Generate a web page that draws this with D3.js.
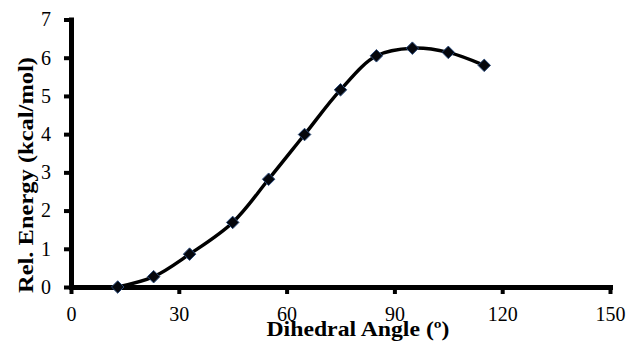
<!DOCTYPE html>
<html><head><meta charset="utf-8">
<script src="https://cdn.jsdelivr.net/npm/d3@7"></script>
<style>body{margin:0;background:#fff}svg{display:block}</style>
</head><body>
<script>
const angles = [13, 23, 33, 45, 55, 65, 75, 85, 95, 105, 115];
const energies = [0.0, 0.27, 0.86, 1.69, 2.82, 3.99, 5.16, 6.05, 6.25, 6.14, 5.80];
const xTicks = [0, 30, 60, 90, 120, 150];
const yTicks = [0, 1, 2, 3, 4, 5, 6, 7];
const xTitle = "Dihedral Angle (º)";
const yTitle = "Rel. Energy (kcal/mol)";

const W = 630, H = 342;
const svg = d3.select("body").append("svg").attr("width", W).attr("height", H);
const x = d3.scaleLinear().domain([0, 150]).range([71, 610]);
const y = d3.scaleLinear().domain([0, 7]).range([287, 19.5]);
const font = "'Liberation Serif','Times New Roman',serif";

const xAxis = svg.append("g").attr("transform", `translate(0,${y(0)})`)
  .call(d3.axisBottom(x).tickValues(xTicks).tickFormat(d3.format("d")).tickSize(7).tickPadding(13).tickSizeOuter(0));
const yAxis = svg.append("g").attr("transform", `translate(${x(0)},0)`)
  .call(d3.axisLeft(y).tickValues(yTicks).tickFormat(d3.format("d")).tickSize(7).tickPadding(13).tickSizeOuter(0));
[xAxis, yAxis].forEach(g => {
  g.select(".domain").attr("stroke", "#000").attr("stroke-width", 5).attr("stroke-linecap", "square");
  g.selectAll(".tick line").attr("stroke", "#000").attr("stroke-width", 4);
  g.selectAll(".tick text").attr("fill", "#000").style("font-family", font).style("font-size", "20px");
});

const line = d3.line().x(d => x(d[0])).y(d => y(d[1])).curve(d3.curveCatmullRom.alpha(0.5));
const pts = angles.map((a, i) => [a, energies[i]]);
svg.append("path").datum(pts).attr("d", line)
  .attr("fill", "none").attr("stroke", "#000").attr("stroke-width", 3.5);

const sym = d3.symbol().type(d3.symbolDiamond2).size(100);
svg.selectAll("path.pt").data(pts).join("path").attr("class", "pt")
  .attr("transform", d => `translate(${x(d[0])},${y(d[1])})`)
  .attr("d", sym).attr("fill", "#05070d").attr("stroke", "#2a4a7a").attr("stroke-width", 1);

svg.append("text").attr("x", 358).attr("y", 336).attr("text-anchor", "middle")
  .style("font-family", font).style("font-weight", "bold").style("font-size", "22px")
  .attr("textLength", 183).attr("lengthAdjust", "spacingAndGlyphs").text(xTitle);
svg.append("text").attr("transform", "translate(33,175) rotate(-90)").attr("text-anchor", "middle")
  .style("font-family", font).style("font-weight", "bold").style("font-size", "21px")
  .attr("textLength", 236).attr("lengthAdjust", "spacingAndGlyphs").text(yTitle);
</script>
</body></html>
